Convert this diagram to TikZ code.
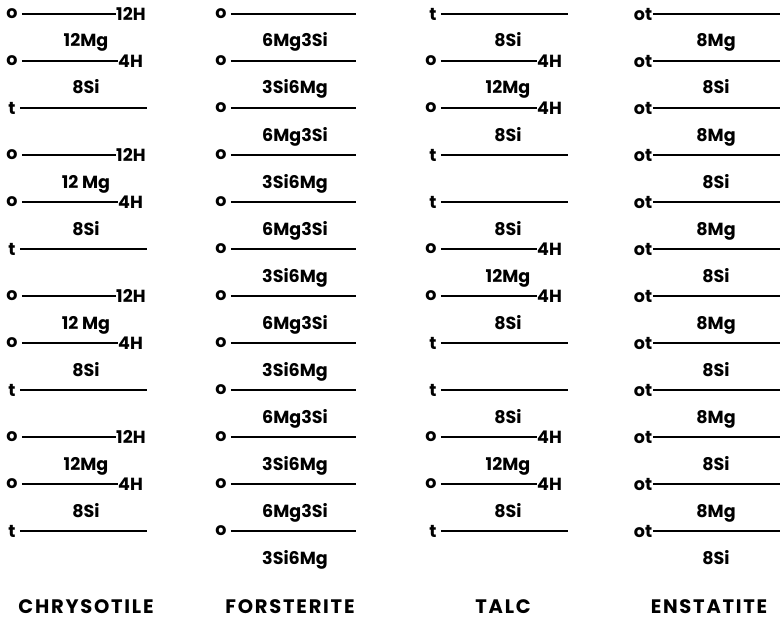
\documentclass[tikz,border=0pt]{standalone}
\usepackage{fontspec}
\setmainfont{Poppins}
\newfontfamily\namefont{Poppins}[LetterSpace=9]
\usepackage{tikz}

\begin{document}
\begin{tikzpicture}[
    x=1pt,y=-1pt,
    tick/.style={inner sep=4pt,font=\bfseries\fontsize{17.5}{19}\selectfont},
    endtag/.style={anchor=west,inner sep=0pt,font=\bfseries\fontsize{17.5}{19}\selectfont},
    layer/.style={anchor=base,inner sep=0pt,font=\bfseries\fontsize{17.5}{19}\selectfont},
    mineral/.style={anchor=base,inner sep=0pt,font=\namefont\bfseries\fontsize{19.5}{21}\selectfont},
    bar/.style={line width=2.4pt}
  ]
    \useasboundingbox (0,0) rectangle (783,623);

    % chrysotile: o-12H / o-4H / t, four times
    \foreach \g/\mg in {0/12Mg,1/12 Mg,2/12 Mg,3/12Mg} {
      \pgfmathsetmacro\y{14+141*\g}
      \node[tick] (ch-a\g) at (12,\y) {o};
      \node[endtag] (ch-ha\g) at (116,\y) {12H};
      \draw[bar] (ch-a\g) -- (ch-ha\g);
      \node[tick] (ch-b\g) at (12,\y+47) {o};
      \node[endtag] (ch-hb\g) at (118,\y+47) {4H};
      \draw[bar] (ch-b\g) -- (ch-hb\g);
      \node[tick] (ch-c\g) at (12,\y+94) {t};
      \coordinate (ch-e\g) at (147,\y+94);
      \draw[bar] (ch-c\g) -- (ch-e\g);
      \node[layer] at (86,\y+33) {\mg};
      \node[layer] at (86,\y+80) {8Si};
    }
    \node[mineral] (chrysotile) at (86,613) {CHRYSOTILE};

    % forsterite
    \foreach \k in {0,...,11} {
      \pgfmathsetmacro\y{14+47*\k}
      \node[tick] (fo-o\k) at (221,\y) {o};
      \coordinate (fo-e\k) at (356,\y);
      \draw[bar] (fo-o\k) -- (fo-e\k);
    }
    \foreach \k in {0,2,...,10} {
      \node[layer] at (295,14+47*\k+33) {6Mg3Si};
      \node[layer] at (295,14+47*\k+80) {3Si6Mg};
    }
    \node[mineral] (forsterite) at (290,613) {FORSTERITE};

    % talc: t / o-4H / o-4H / t, three times
    \foreach \g in {0,1,2} {
      \pgfmathsetmacro\y{14+188*\g}
      \node[tick] (ta-a\g) at (433,\y) {t};
      \coordinate (ta-ea\g) at (568,\y);
      \draw[bar] (ta-a\g) -- (ta-ea\g);
      \node[tick] (ta-b\g) at (431,\y+47) {o};
      \node[endtag] (ta-hb\g) at (537,\y+47) {4H};
      \draw[bar] (ta-b\g) -- (ta-hb\g);
      \node[tick] (ta-c\g) at (431,\y+94) {o};
      \node[endtag] (ta-hc\g) at (537,\y+94) {4H};
      \draw[bar] (ta-c\g) -- (ta-hc\g);
      \node[tick] (ta-d\g) at (433,\y+141) {t};
      \coordinate (ta-ed\g) at (568,\y+141);
      \draw[bar] (ta-d\g) -- (ta-ed\g);
      \node[layer] at (508,\y+33) {8Si};
      \node[layer] at (508,\y+80) {12Mg};
      \node[layer] at (508,\y+127) {8Si};
    }
    \node[mineral] (talc) at (503,613) {TALC};

    % enstatite
    \foreach \k in {0,...,11} {
      \pgfmathsetmacro\y{14+47*\k}
      \node[tick,inner sep=1pt] (en-o\k) at (643,\y) {ot};
      \coordinate (en-e\k) at (780,\y);
      \draw[bar] (en-o\k) -- (en-e\k);
    }
    \foreach \k in {0,2,...,10} {
      \node[layer] at (716,14+47*\k+33) {8Mg};
      \node[layer] at (716,14+47*\k+80) {8Si};
    }
    \node[mineral] (enstatite) at (709,613) {ENSTATITE};
  \end{tikzpicture}
\end{document}
